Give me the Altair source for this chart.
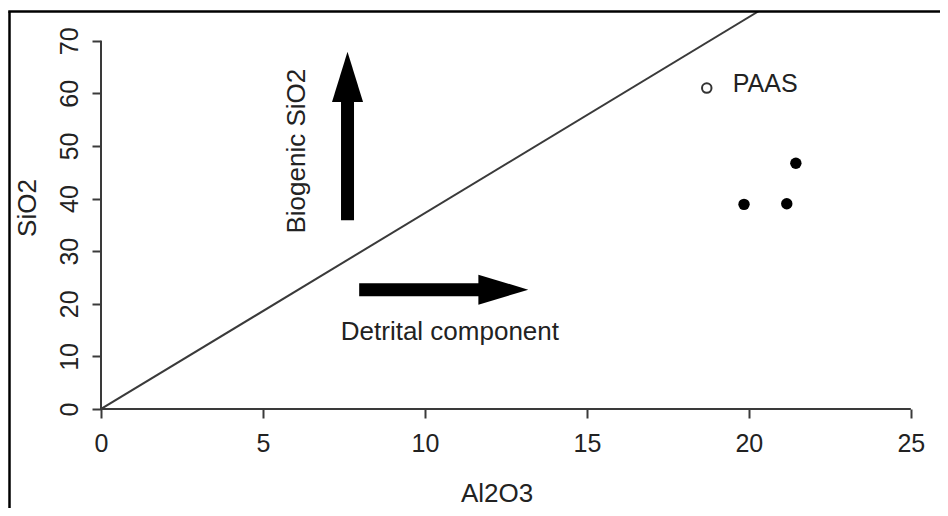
import altair as alt
import pandas as pd

# ---- data ----
x_ticks = [0, 5, 10, 15, 20, 25]
y_ticks = [0, 10, 20, 30, 40, 50, 60, 70]

sample_al2o3 = [21.45, 19.85, 21.17]
sample_sio2 = [46.7, 38.9, 39.0]

paas_al2o3 = [18.7]
paas_sio2 = [61.0]
paas_label = ["PAAS"]

diag_al2o3 = [0.0, 20.3]
diag_sio2 = [0.0, 75.6]

# arrows (data units)
bio_arrow_x = [7.61]
bio_arrow_y = [35.9, 58.35, 67.9]      # shaft start, head base, tip
bio_head_half = 0.479
det_arrow_y = [22.68]
det_arrow_x = [7.97, 11.65, 13.19]     # shaft start, head base, tip
det_head_half = 2.85

annot_text = ["Biogenic SiO2", "Detrital component"]
annot_x = [6.30, 10.77]
annot_y = [49.0, 13.12]
annot_angle = [270, 0]

W, H = 839, 397
X_MAX, Y_MAX = 25.9, 75.46
FONT = "Liberation Sans"
INK = "#222222"
LINE = "#3a3a3a"

xs = alt.Scale(domain=[0, X_MAX], nice=False, zero=False)
ys = alt.Scale(domain=[0, Y_MAX], nice=False, zero=False)

xaxis = alt.Axis(values=x_ticks, domain=False, grid=False, tickSize=9, tickWidth=2,
                 tickColor=LINE, labelFont=FONT, labelFontSize=25, labelColor=INK,
                 labelBaseline="top", labelPadding=13, labelFlush=False, labelOverlap=False,
                 title="Al2O3", titleFont=FONT, titleFontSize=26, titleColor=INK,
                 titleFontWeight="normal", titleX=395.5, titleY=92, titleAlign="center",
                 titleBaseline="alphabetic", titleAngle=0)
yaxis = alt.Axis(values=y_ticks, domain=False, grid=False, tickSize=9, tickWidth=2,
                 tickColor=LINE, labelFont=FONT, labelFontSize=25, labelColor=INK,
                 labelAngle=270, labelAlign="center", labelBaseline="alphabetic",
                 labelPadding=15, labelFlush=False, labelOverlap=False,
                 title="SiO2", titleFont=FONT, titleFontSize=26, titleColor=INK,
                 titleFontWeight="normal", titleX=-66, titleY=195.5, titleAlign="center",
                 titleBaseline="alphabetic", titleAngle=270)

# axis lines (R style: from first to last tick)
axis_df = pd.DataFrame({
    "x": [x_ticks[0], x_ticks[0]], "x2": [x_ticks[-1], x_ticks[0]],
    "y": [y_ticks[0], y_ticks[0]], "y2": [y_ticks[0], y_ticks[-1]],
})
axes_layer = alt.Chart(axis_df).mark_rule(color=LINE, strokeWidth=2).encode(
    x=alt.X("x:Q", scale=xs, axis=xaxis),
    x2="x2:Q",
    y=alt.Y("y:Q", scale=ys, axis=yaxis),
    y2="y2:Q",
)

diag_df = pd.DataFrame({"x": diag_al2o3, "y": diag_sio2})
diag = alt.Chart(diag_df).mark_line(color=LINE, strokeWidth=2, clip=True).encode(
    x=alt.X("x:Q", scale=xs), y=alt.Y("y:Q", scale=ys))

samples = alt.Chart(pd.DataFrame({"x": sample_al2o3, "y": sample_sio2})).mark_point(
    shape="circle", filled=True, color="#000000", size=130, opacity=1).encode(
    x=alt.X("x:Q", scale=xs), y=alt.Y("y:Q", scale=ys))

paas_df = pd.DataFrame({"x": paas_al2o3, "y": paas_sio2, "t": paas_label})
paas = alt.Chart(paas_df).mark_point(
    shape="circle", filled=False, color="#333333", size=90, strokeWidth=2, opacity=1).encode(
    x=alt.X("x:Q", scale=xs), y=alt.Y("y:Q", scale=ys))
paas_txt = alt.Chart(paas_df).mark_text(
    font=FONT, fontSize=25, color=INK, align="left", baseline="alphabetic", dx=26, dy=4).encode(
    x=alt.X("x:Q", scale=xs), y=alt.Y("y:Q", scale=ys), text="t:N")

# arrows
bio_shaft = alt.Chart(pd.DataFrame({"x": bio_arrow_x, "y": [bio_arrow_y[0]], "y2": [bio_arrow_y[1] + 0.3]})
                      ).mark_rule(color="#000000", strokeWidth=13).encode(
    x=alt.X("x:Q", scale=xs), y=alt.Y("y:Q", scale=ys), y2="y2:Q")
bx = bio_arrow_x[0]
bio_head = alt.Chart(pd.DataFrame({
    "y": [bio_arrow_y[1], bio_arrow_y[2]],
    "x": [bx - bio_head_half, bx], "x2": [bx + bio_head_half, bx]})
).mark_area(color="#000000", orient="horizontal", opacity=1).encode(
    y=alt.Y("y:Q", scale=ys), x=alt.X("x:Q", scale=xs), x2="x2:Q")

det_shaft = alt.Chart(pd.DataFrame({"y": det_arrow_y, "x": [det_arrow_x[0]], "x2": [det_arrow_x[1] + 0.05]})
                      ).mark_rule(color="#000000", strokeWidth=13).encode(
    y=alt.Y("y:Q", scale=ys), x=alt.X("x:Q", scale=xs), x2="x2:Q")
dy0 = det_arrow_y[0]
det_head = alt.Chart(pd.DataFrame({
    "x": [det_arrow_x[1], det_arrow_x[2]],
    "y": [dy0 - det_head_half, dy0], "y2": [dy0 + det_head_half, dy0]})
).mark_area(color="#000000", orient="vertical", opacity=1).encode(
    x=alt.X("x:Q", scale=xs), y=alt.Y("y:Q", scale=ys), y2="y2:Q")

annot_df = pd.DataFrame({"x": annot_x, "y": annot_y, "t": annot_text, "a": annot_angle})
annots = alt.Chart(annot_df).mark_text(
    font=FONT, fontSize=26, color=INK, align="center", baseline="alphabetic").encode(
    x=alt.X("x:Q", scale=xs), y=alt.Y("y:Q", scale=ys), text="t:N",
    angle=alt.Angle("a:Q", scale=None))

# frame (left and top edges of the picture border)
dummy = pd.DataFrame({"a": [0]})
frame_left = alt.Chart(dummy).mark_rule(color="#000000", strokeWidth=2.5).encode(
    x=alt.value(-91.5), y=alt.value(-0.5), y2=alt.value(H + 99))
frame_top = alt.Chart(dummy).mark_rule(color="#000000", strokeWidth=2.5).encode(
    x=alt.value(-92.75), x2=alt.value(W), y=alt.value(-0.5))

chart = alt.layer(
    axes_layer, diag, samples, paas, paas_txt,
    bio_shaft, bio_head, det_shaft, det_head, annots,
    frame_left, frame_top,
).properties(
    width=W, height=H,
    autosize=alt.AutoSizeParams(type="none"),
    padding={"left": 93, "top": 4, "right": 0, "bottom": 99},
    background="white",
).configure_view(stroke=None)

chart.save("out.html", embed_options={"renderer": "svg", "actions": False})
